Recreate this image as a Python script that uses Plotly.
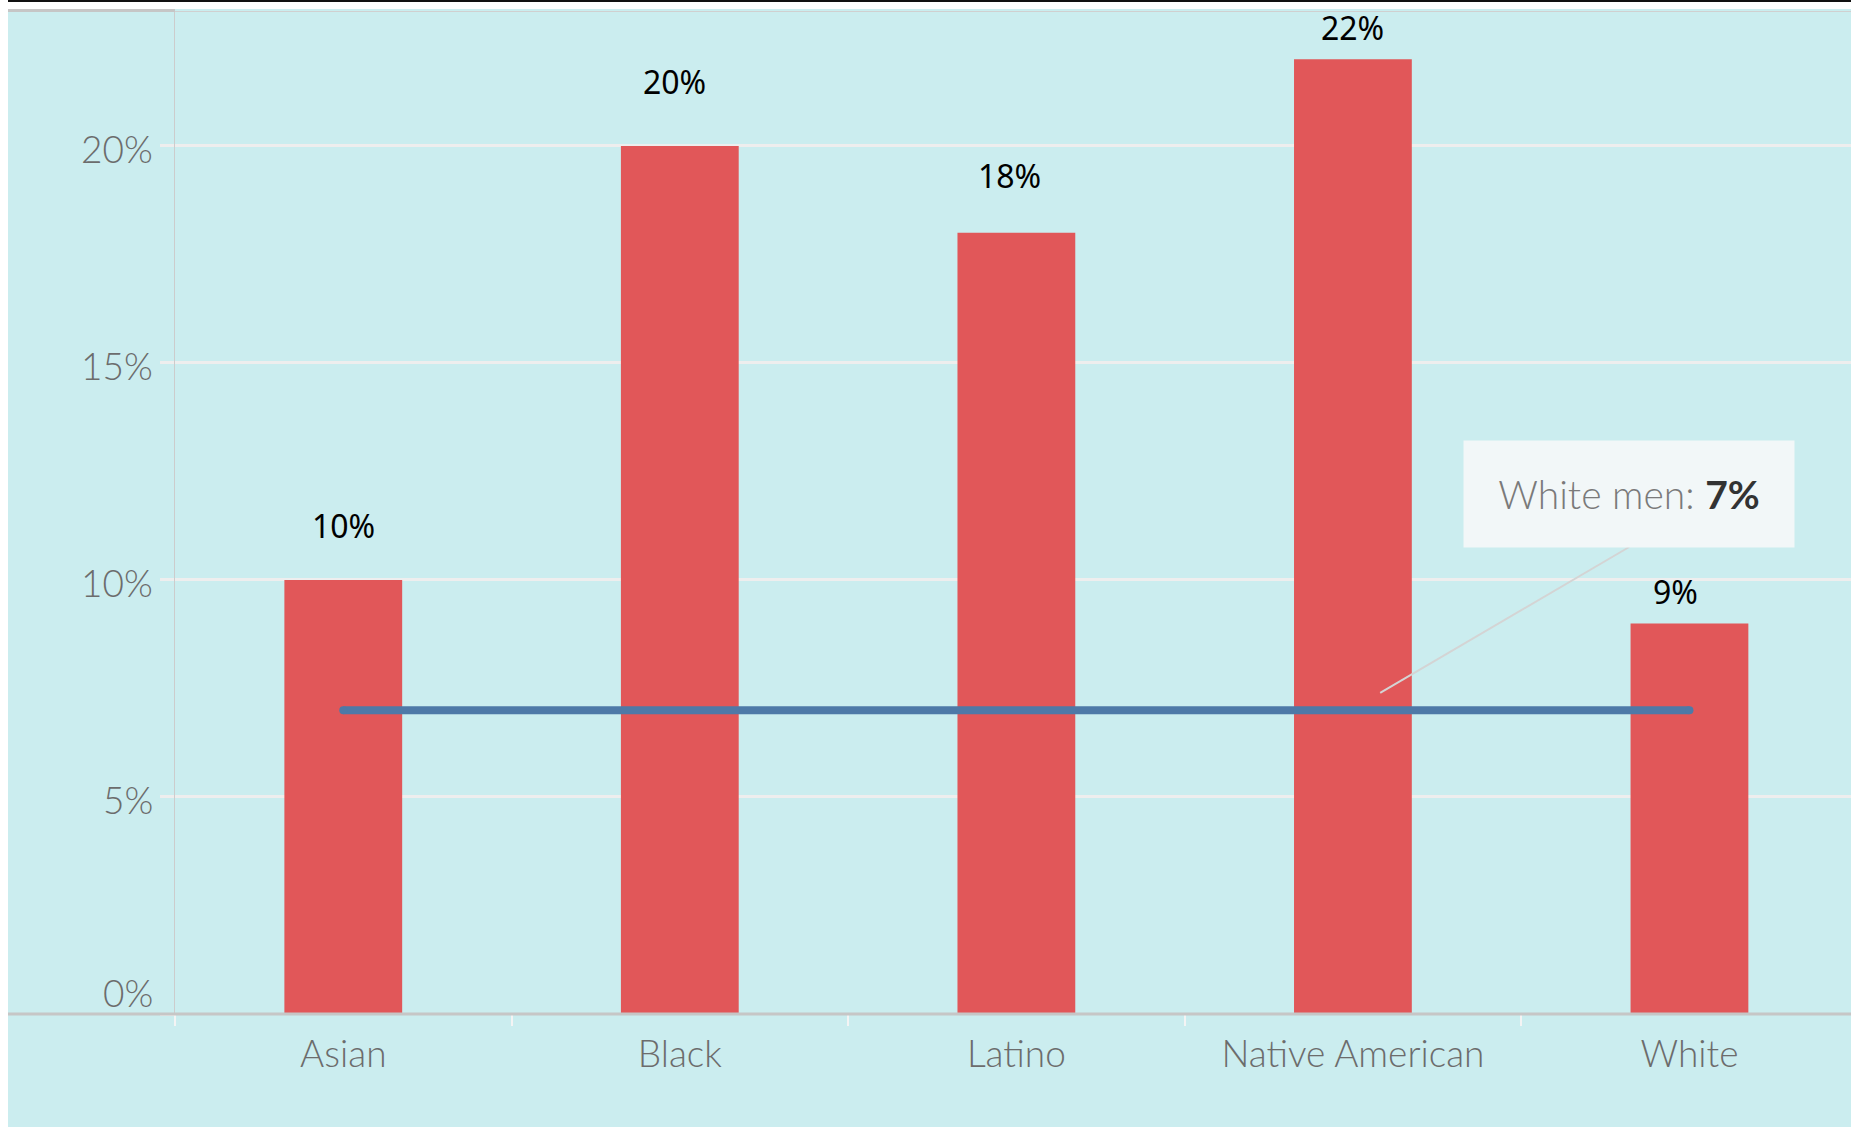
import plotly.graph_objects as go

# Share of each group, in percent
categories = ["Asian", "Black", "Latino", "Native American", "White"]
values = [10, 20, 18, 22, 9]
value_labels = ["10%", "20%", "18%", "22%", "9%"]

# Reference rate drawn as a horizontal line
white_men_rate = 7
white_men_label = "White men: "

y_tick_vals = [0, 5, 10, 15, 20]
y_tick_text = ["0%", "5%", "10%", "15%", "20%"]

# Per-label nudges (pixels)
label_yshift = [54, 64, 57, 32, 32]
label_xshift = [0, -5, -7, 0, -14]
y_tick_yshift = [22, -3, -3, -3, -3]

W, H = 1851, 1127
ML, MR, MT, MB = 175, 0, 11, 113
PW, PH = W - ML - MR, H - MT - MB

BG = "#cbedef"
BAR = "#e15759"
LINE = "#4e79a7"
TICK_GRAY = "#6c6c6c"


def px_x(px):
    return (px - ML) / PW


def px_y(py):
    return (H - MB - py) / PH


fig = go.Figure()

fig.add_trace(go.Bar(
    x=categories, y=values,
    marker=dict(color=BAR, line=dict(width=0)),
    width=0.35,
    hoverinfo="skip",
))

fig.add_trace(go.Scatter(
    x=[categories[0], categories[-1]],
    y=[white_men_rate, white_men_rate],
    mode="lines+markers",
    line=dict(color=LINE, width=8),
    marker=dict(color=LINE, size=8, line=dict(width=0)),
    hoverinfo="skip",
))

annotations = []
for cat, v, lab, dy, dx in zip(categories, values, value_labels, label_yshift, label_xshift):
    annotations.append(dict(
        x=cat, y=v, xref="x", yref="y", text=lab, showarrow=False,
        yshift=dy, xshift=dx, font=dict(family="Noto Sans", size=32, color="#000000"),
    ))

# Y tick labels, right-aligned against the axis
for v, t, dy in zip(y_tick_vals, y_tick_text, y_tick_yshift):
    annotations.append(dict(
        x=0, y=v, xref="paper", yref="y", text=t, showarrow=False,
        xanchor="right", yanchor="middle", xshift=-20, yshift=dy,
        font=dict(family="Lato", size=37, color=TICK_GRAY, weight=300),
    ))

# Callout box for the reference line
annotations.append(dict(
    x=3.821, y=11.98, xref="x", yref="y",
    text=f"{white_men_label}<span style='color:#333333'><b>{white_men_rate}%</b></span>",
    showarrow=False, bgcolor="#f2f7f8", width=330, height=106, borderpad=0,
    font=dict(family="Lato", size=39, color="#7a7a7a", weight=300),
))

shapes = [
    # callout pointer
    dict(type="line", xref="x", yref="y", x0=3.081, y0=7.4, x1=3.821, y1=10.76,
         line=dict(color="#d4d4d4", width=2), layer="above"),
    # white margin strips on the left and top
    dict(type="rect", xref="paper", yref="paper", x0=px_x(0), x1=px_x(8),
         y0=px_y(H), y1=px_y(0), fillcolor="#ffffff", line=dict(width=0), layer="above"),
    dict(type="rect", xref="paper", yref="paper", x0=px_x(0), x1=px_x(W),
         y0=px_y(9), y1=px_y(0), fillcolor="#ffffff", line=dict(width=0), layer="above"),
    # black rule along the very top
    dict(type="rect", xref="paper", yref="paper", x0=px_x(8), x1=px_x(W),
         y0=px_y(2), y1=px_y(0), fillcolor="#111111", line=dict(width=0), layer="above"),
    # gray header borders
    dict(type="rect", xref="paper", yref="paper", x0=px_x(8), x1=px_x(ML),
         y0=px_y(12), y1=px_y(9), fillcolor="#c6c6c6", line=dict(width=0), layer="above"),
    dict(type="line", xref="paper", yref="paper", x0=px_x(ML), x1=px_x(W),
         y0=px_y(11.5), y1=px_y(11.5), line=dict(color="#d0d0d0", width=1), layer="above"),
    # baseline across the full width
    dict(type="line", xref="paper", yref="paper", x0=px_x(8), x1=px_x(W),
         y0=0, y1=0, line=dict(color="#c6c6c6", width=3), layer="above"),
]

fig.update_layout(
    width=W, height=H,
    margin=dict(l=ML, r=MR, t=MT, b=MB, pad=0),
    paper_bgcolor=BG, plot_bgcolor=BG,
    showlegend=False,
    annotations=annotations,
    shapes=shapes,
    xaxis=dict(
        type="category", range=[-0.5, 4.48],
        showgrid=False, zeroline=False, showline=False,
        ticks="outside", tickson="boundaries", ticklen=11, tickwidth=2, tickcolor="#f4f4f4",
        tickfont=dict(family="Lato", size=37, color=TICK_GRAY, weight=300),
        ticklabelstandoff=15,
        fixedrange=True,
    ),
    yaxis=dict(
        range=[0, 23.11],
        tickvals=y_tick_vals, showticklabels=False,
        showgrid=True, gridcolor="#eeeeee", gridwidth=2.5,
        zeroline=False,
        showline=True, linecolor="#cccccc", linewidth=1,
        ticks="outside", ticklen=14, tickwidth=2.5, tickcolor="#eeeeee",
        fixedrange=True,
    ),
)

fig.write_html("out.html", config={"displayModeBar": False})
